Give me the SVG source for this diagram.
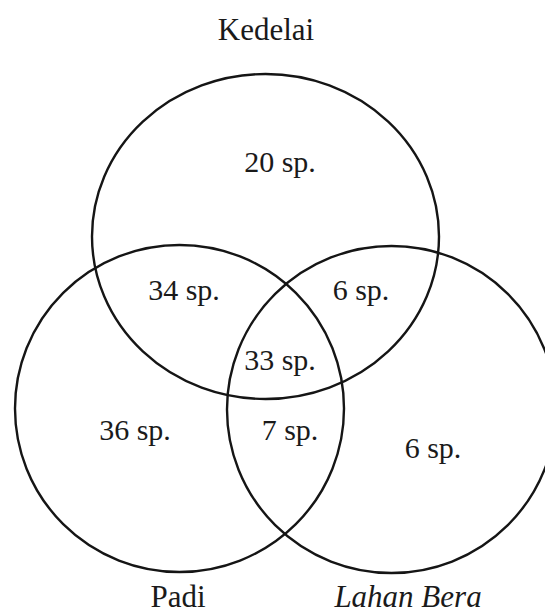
<svg xmlns="http://www.w3.org/2000/svg" width="545" height="614" viewBox="0 0 545 614">
<style>
.c{fill:none;stroke:#151515;stroke-width:2.4}
.t{font-family:"Liberation Serif","Times New Roman",serif;font-size:30px;fill:#1a1a1a;text-anchor:middle}
.lbl{font-family:"Liberation Serif","Times New Roman",serif;font-size:31px;fill:#1a1a1a;text-anchor:middle}
</style>
<rect width="545" height="614" fill="#ffffff"/>
<g id="kedelai">
<ellipse class="c" cx="265.5" cy="236.5" rx="173.5" ry="162.5"/>
<text class="lbl" x="266" y="40" font-size="32">Kedelai</text>
</g>
<g id="padi">
<ellipse class="c" cx="179.5" cy="408.5" rx="164.5" ry="163.5"/>
<text class="lbl" x="178" y="607">Padi</text>
</g>
<g id="lahan-bera">
<ellipse class="c" cx="391.5" cy="409.5" rx="164.5" ry="163.5"/>
<text class="lbl" x="408" y="607" font-style="italic">Lahan Bera</text>
</g>
<g id="counts">
<text class="t" x="280" y="172">20 sp.</text>
<text class="t" x="184" y="300">34 sp.</text>
<text class="t" x="361" y="300">6 sp.</text>
<text class="t" x="280" y="370">33 sp.</text>
<text class="t" x="135" y="440">36 sp.</text>
<text class="t" x="290" y="440">7 sp.</text>
<text class="t" x="433" y="458">6 sp.</text>
</g>
<g id="connectors"></g>
</svg>
